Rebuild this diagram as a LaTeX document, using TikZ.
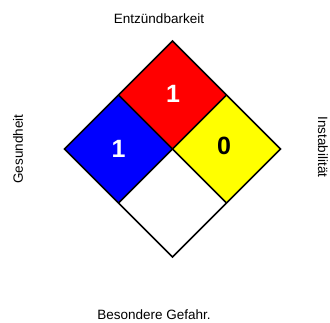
\documentclass[tikz,border=0pt]{standalone}
\usepackage{fontspec}
\setmainfont{Liberation Sans}
\definecolor{health}{HTML}{0000FF}
\definecolor{flame}{HTML}{FF0000}
\definecolor{react}{HTML}{FFFF00}
\tikzset{
  rating/.style={font=\fontsize{25}{30}\selectfont\bfseries, inner sep=0pt},
  caption/.style={font=\fontsize{13.5}{16}\selectfont, inner sep=0pt}
}

\begin{document}
\begin{tikzpicture}[x=1pt,y=1pt]
	\useasboundingbox (0,0) rectangle (330,322);

	% corners of the diamond
	\coordinate (c) at (172.5,173);
	\coordinate (top) at (172.5,281);
	\coordinate (bot) at (172.5,65);
	\coordinate (lft) at (64.5,173);
	\coordinate (rgt) at (280.5,173);
	\coordinate (tl) at (118.5,227);
	\coordinate (tr) at (226.5,227);
	\coordinate (bl) at (118.5,119);
	\coordinate (br) at (226.5,119);

	\fill[health] (lft) -- (tl) -- (c) -- (bl) -- cycle;
	\fill[flame] (tl) -- (top) -- (tr) -- (c) -- cycle;
	\fill[react] (c) -- (tr) -- (rgt) -- (br) -- cycle;
	\fill[white] (bl) -- (c) -- (br) -- (bot) -- cycle;

	\draw[line width=1.5pt, line join=miter] (top) -- (rgt) -- (bot) -- (lft) -- cycle;
	\draw[line width=1.5pt] (tl) -- (br);
	\draw[line width=1.5pt] (tr) -- (bl);

	\node[rating, text=white] (flamnum) at (173,228) {1};
	\node[rating, text=white] (healthnum) at (118.5,173.5) {1};
	\node[rating, text=black] (reactnum) at (224,176.5) {0};

	\node[caption] (flamlbl) at (159,303.5) {Entzündbarkeit};
	\node[caption, rotate=90] (healthlbl) at (18,173) {Gesundheit};
	\node[caption, rotate=-90] (reactlbl) at (323,175) {Instabilität};
	\node[caption] (speclbl) at (154,7.5) {Besondere Gefahr.};
\end{tikzpicture}
\end{document}
